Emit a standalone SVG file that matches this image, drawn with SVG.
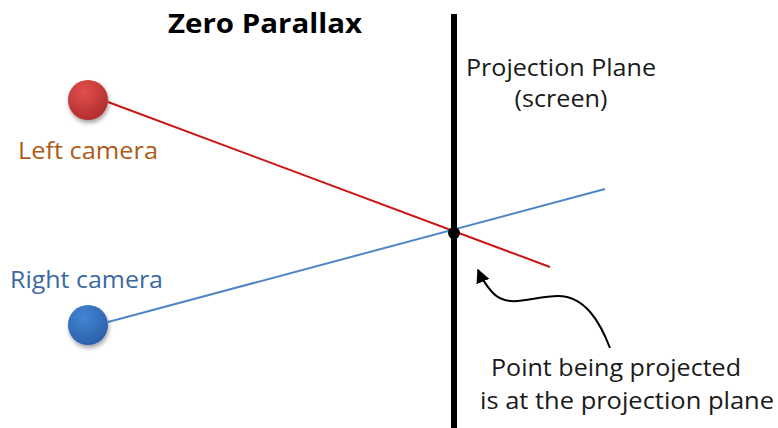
<svg xmlns="http://www.w3.org/2000/svg" width="778" height="428" viewBox="0 0 778 428">
<style>
text{font-family:"Open Sans","Liberation Sans",sans-serif;}
.lbl{font-size:23px;fill:#1a1a1a;}
</style>
<defs>
<radialGradient id="gr" cx="0.4" cy="0.3" r="0.75">
<stop offset="0" stop-color="#e0504c"/><stop offset="1" stop-color="#b02a2d"/>
</radialGradient>
<radialGradient id="gb" cx="0.4" cy="0.3" r="0.75">
<stop offset="0" stop-color="#4285d6"/><stop offset="1" stop-color="#2a5ea6"/>
</radialGradient>
<filter id="sh" x="-50%" y="-50%" width="200%" height="200%">
<feDropShadow dx="1" dy="3" stdDeviation="2" flood-color="#000" flood-opacity="0.35"/>
</filter>
<marker id="ah" viewBox="0 0 10 10" refX="9" refY="5" markerWidth="7" markerHeight="7" orient="auto-start-reverse">
<path d="M0 0 L10 5 L0 10 Z" fill="#000"/>
</marker>
</defs>
<rect width="778" height="428" fill="#fff"/>
<text x="265" y="33" font-size="26" font-weight="bold" text-anchor="middle" fill="#000" textLength="194" lengthAdjust="spacingAndGlyphs">Zero Parallax</text>
<g id="connectors">
<line x1="108" y1="102" x2="550" y2="267" stroke="#cc1515" stroke-width="2"/>
<line x1="108" y1="322" x2="605" y2="189" stroke="#4f86c6" stroke-width="2"/>
<path d="M610 348 C600 322 585 296 558 296 C532 296 508 310 492 292 C485 284 481 277 478 270" fill="none" stroke="#000" stroke-width="2" marker-end="url(#ah)"/>
</g>
<g id="plane">
<line x1="454" y1="14" x2="454" y2="428" stroke="#000" stroke-width="6"/>
<text class="lbl" x="466" y="76" textLength="190" lengthAdjust="spacingAndGlyphs">Projection Plane</text>
<text class="lbl" x="561" y="107" text-anchor="middle" textLength="93" lengthAdjust="spacingAndGlyphs">(screen)</text>
</g>
<g id="point">
<circle cx="454" cy="233" r="6" fill="#000"/>
</g>
<g id="left-camera">
<circle cx="88" cy="100" r="20" fill="url(#gr)" filter="url(#sh)"/>
<text x="18" y="159" font-size="23" fill="#b05a17" textLength="140" lengthAdjust="spacingAndGlyphs">Left camera</text>
</g>
<g id="right-camera">
<circle cx="88" cy="325" r="20" fill="url(#gb)" filter="url(#sh)"/>
<text x="10" y="288" font-size="23" fill="#3a69a3" textLength="153" lengthAdjust="spacingAndGlyphs">Right camera</text>
</g>
<g id="note">
<text class="lbl" x="616" y="376" text-anchor="middle" textLength="250" lengthAdjust="spacingAndGlyphs">Point being projected</text>
<text class="lbl" x="627" y="409" text-anchor="middle" textLength="294" lengthAdjust="spacingAndGlyphs">is at the projection plane</text>
</g>
</svg>
